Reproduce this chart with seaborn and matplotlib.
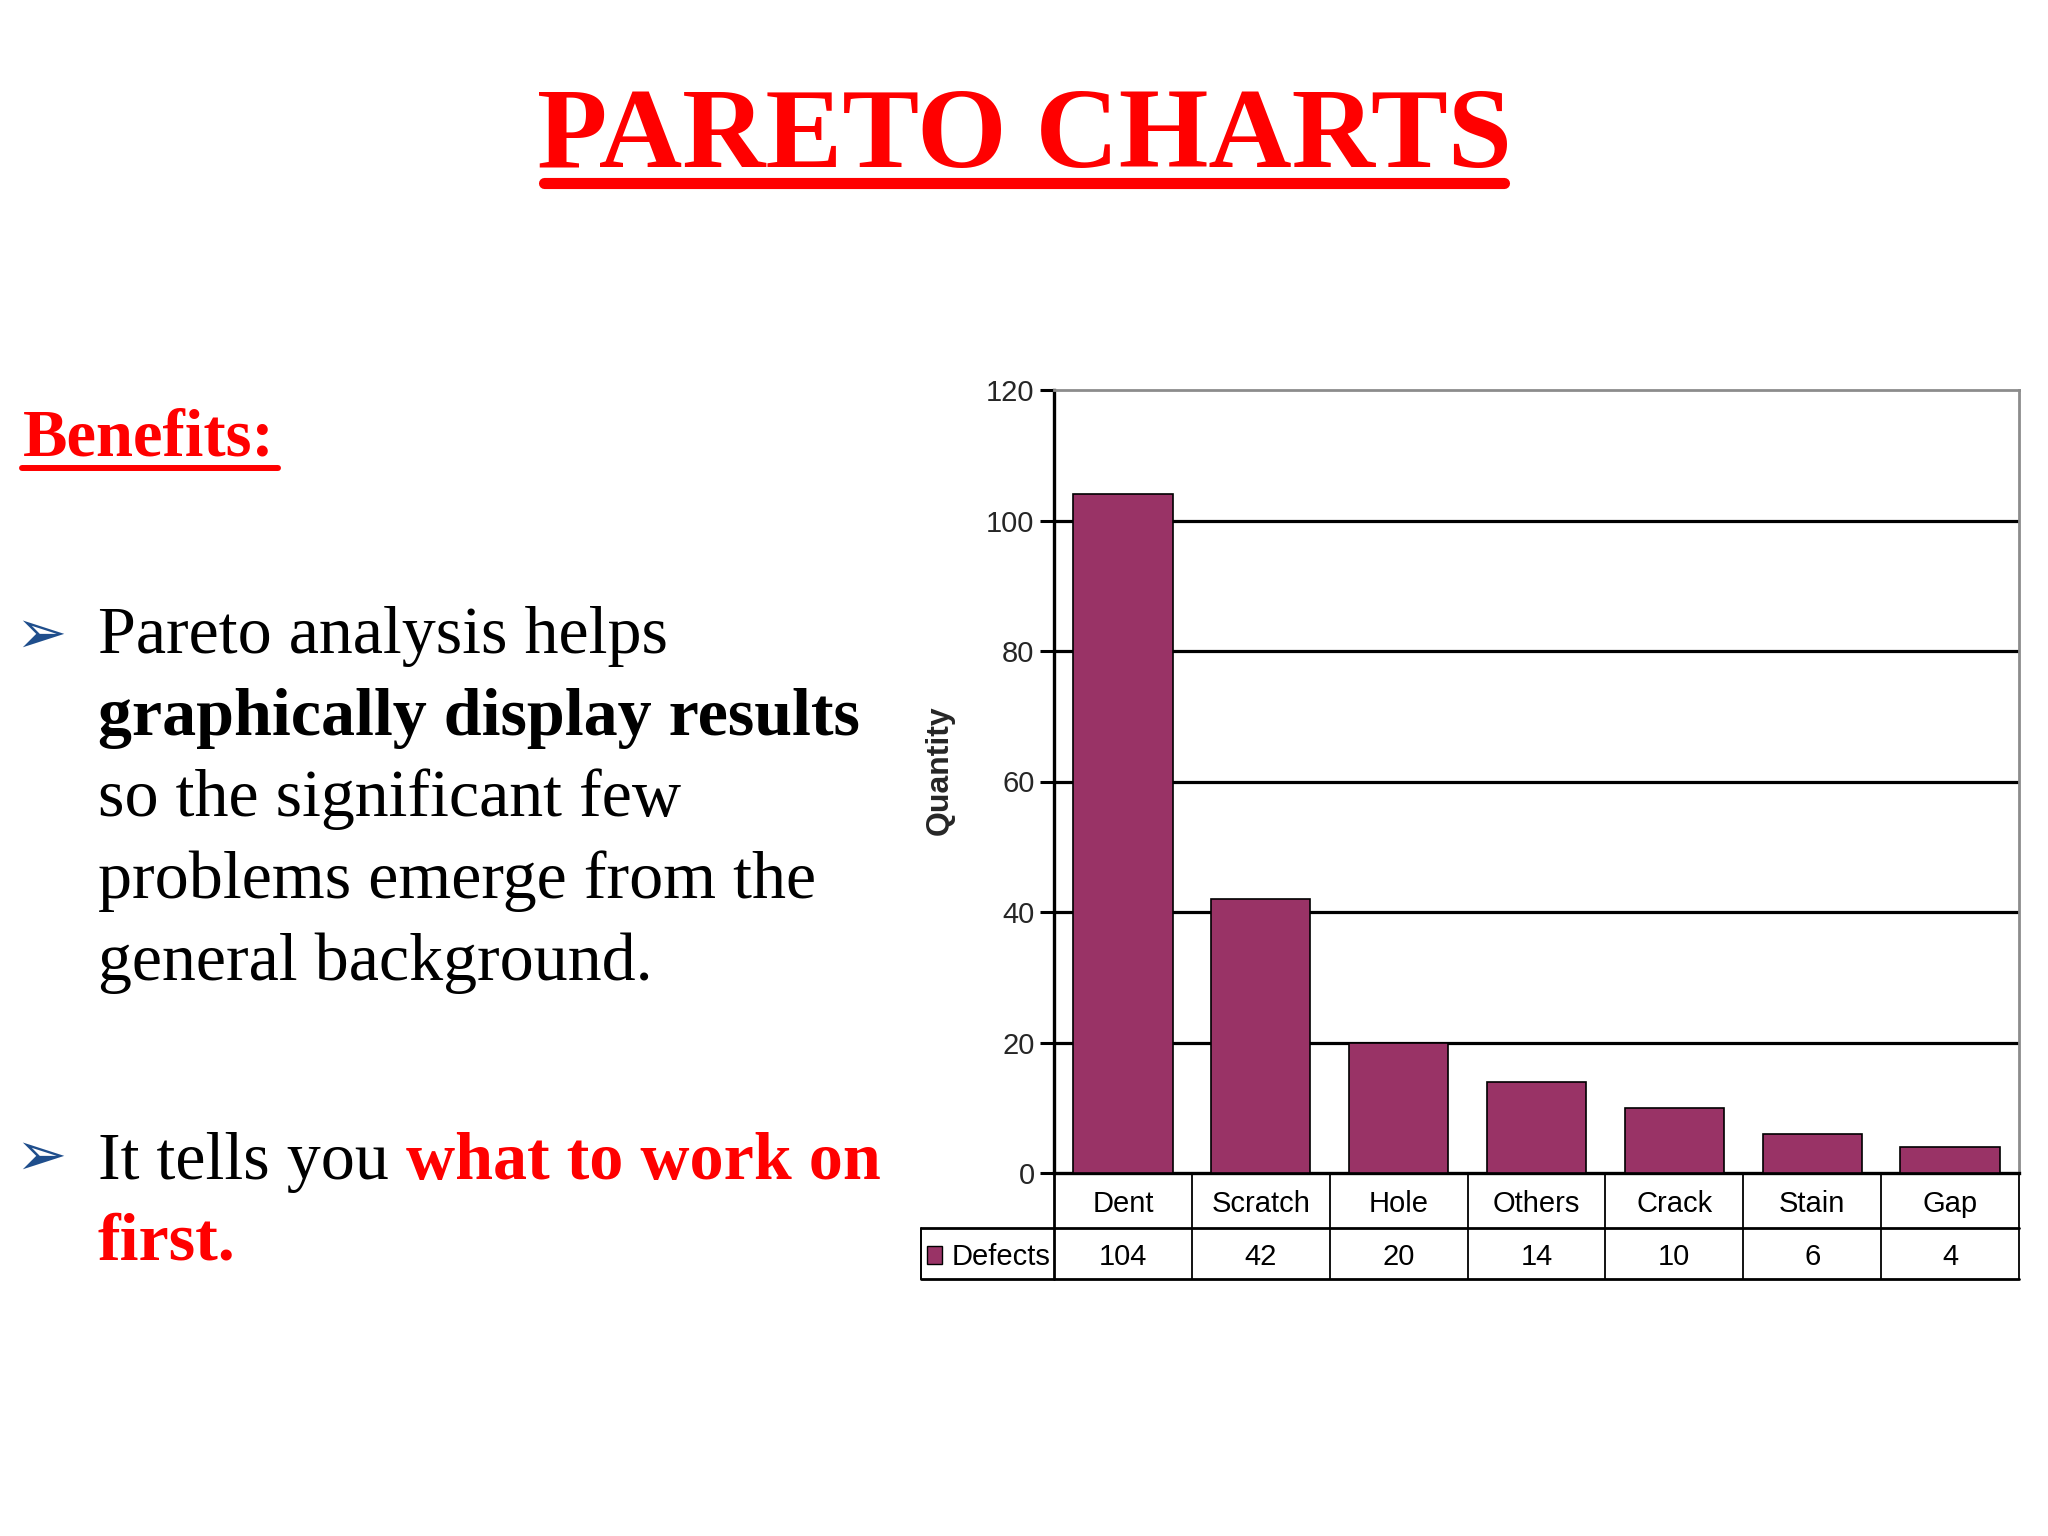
import matplotlib
matplotlib.use("Agg")
import matplotlib.pyplot as plt
import seaborn as sns
from matplotlib.patches import Rectangle

# Chart data
categories = ['Dent', 'Scratch', 'Hole', 'Others', 'Crack', 'Stain', 'Gap']
defects = [104, 42, 20, 14, 10, 6, 4]
y_ticks = [0, 20, 40, 60, 80, 100, 120]
series_name = 'Defects'

bar_color = '#993366'
red = '#FF0000'
W, H = 2048, 1536

sns.set_theme(style='white')
plt.rcParams['font.family'] = ['Liberation Sans Narrow', 'Liberation Sans', 'DejaVu Sans']

fig = plt.figure(figsize=(20.48, 15.36), dpi=100)
fig.patch.set_facecolor('white')


def fx(px):
    return px / W


def fy(py):
    return 1 - py / H


serif = ['Liberation Serif', 'DejaVu Serif']

# Title with underline
fig.text(fx(1024), fy(167), 'PARETO CHARTS', family=serif, weight='bold',
         fontsize=83, color=red, ha='center', va='baseline')
fig.add_artist(plt.Line2D([fx(544), fx(1504)], [fy(183), fy(183)], color=red, lw=8))

# Benefits heading
fig.text(fx(23), fy(456), 'Benefits:', family=serif, weight='bold',
         fontsize=48, color=red, ha='left', va='baseline')
fig.add_artist(plt.Line2D([fx(22), fx(278)], [fy(468), fy(468)], color=red, lw=4.3))

# Bullets
arrow_color = '#1F4E8C'
for yc in [636, 1158]:
    fig.text(fx(41), fy(yc), '\u27a2', family=['DejaVu Sans'], fontsize=44,
             color=arrow_color, ha='center', va='center')

body_lines = [
    ('Pareto analysis helps', 'normal', 653),
    ('graphically display results', 'bold', 735),
    ('so the significant few', 'normal', 816),
    ('problems emerge from the', 'normal', 898),
    ('general background.', 'normal', 980),
]
for txt, wt, base in body_lines:
    fig.text(fx(98), fy(base), txt, family=serif, weight=wt, fontsize=49,
             color='black', ha='left', va='baseline')

t1 = fig.text(fx(98), fy(1179), 'It tells you ', family=serif, fontsize=49,
              color='black', ha='left', va='baseline')
fig.canvas.draw()
bb = t1.get_window_extent(fig.canvas.get_renderer())
fig.text(bb.x1 / W, fy(1179), 'what to work on', family=serif, weight='bold',
         fontsize=49, color=red, ha='left', va='baseline')
fig.text(fx(98), fy(1260), 'first.', family=serif, weight='bold', fontsize=49,
         color=red, ha='left', va='baseline')

# Bar chart
ax = fig.add_axes([fx(1054), fy(1173), (2019 - 1054) / W, (1173 - 390) / H])
ax.set_facecolor('white')
sns.barplot(x=categories, y=defects, color=bar_color, saturation=1, width=0.72,
            edgecolor='black', linewidth=1.2, ax=ax, zorder=3)
ax.set_xlim(-0.5, len(categories) - 0.5)
ax.set_ylim(0, 120)
ax.set_yticks(y_ticks)
ax.set_xticks([])
ax.set_xlabel('')
ax.tick_params(axis='y', direction='out', length=10, width=2.2, color='black',
               labelsize=21, pad=4, left=True)
ax.yaxis.grid(True, color='black', lw=2.3)
ax.set_axisbelow(True)
ax.yaxis.get_gridlines()[-1].set_visible(False)
ax.yaxis.get_gridlines()[0].set_visible(False)

for s in ['left', 'bottom']:
    ax.spines[s].set_color('black')
    ax.spines[s].set_linewidth(2.4)
for s in ['top', 'right']:
    ax.spines[s].set_color('#8c8c8c')
    ax.spines[s].set_linewidth(2)

ax.set_ylabel('Quantity', family=['Liberation Sans', 'DejaVu Sans'], weight='bold', fontsize=23)
ax.yaxis.set_label_coords(-0.103, 0.514)

# Data table under the chart
tr = ax.get_xaxis_transform()
r1 = -(1228 - 1173) / 783
r2 = -(1279 - 1173) / 783
x_left = -0.5 - (1054 - 921) * len(categories) / 965
x_right = len(categories) - 0.5

ax.plot([x_left, x_right], [r1, r1], color='black', lw=2, transform=tr, clip_on=False)
ax.plot([x_left, x_right], [r2, r2], color='black', lw=2, transform=tr, clip_on=False)
ax.plot([x_left, x_left], [r1, r2], color='black', lw=1.4, transform=tr, clip_on=False)
ax.plot([-0.5, -0.5], [0, r2], color='black', lw=2, transform=tr, clip_on=False)
for i in range(1, len(categories) + 1):
    ax.plot([i - 0.5, i - 0.5], [0, r2], color='black', lw=1.3, transform=tr, clip_on=False)

for i, (cat, val) in enumerate(zip(categories, defects)):
    ax.text(i, r1 / 2 - 0.004, cat, transform=tr, ha='center', va='center', fontsize=21, color='black')
    ax.text(i, (r1 + r2) / 2 - 0.004, str(val), transform=tr, ha='center', va='center',
            fontsize=21, color='black')

# legend key + series name
key_w = 15 * len(categories) / 965
ax.add_patch(Rectangle((x_left + 6 * len(categories) / 965, (r1 + r2) / 2 - 0.013), key_w, 0.022,
                       facecolor=bar_color, edgecolor='black', lw=1, transform=tr, clip_on=False))
ax.text(x_left + 31 * len(categories) / 965, (r1 + r2) / 2 - 0.004, series_name, transform=tr,
        ha='left', va='center', fontsize=21, color='black')

fig.savefig('out.png', dpi=100, facecolor='white')
